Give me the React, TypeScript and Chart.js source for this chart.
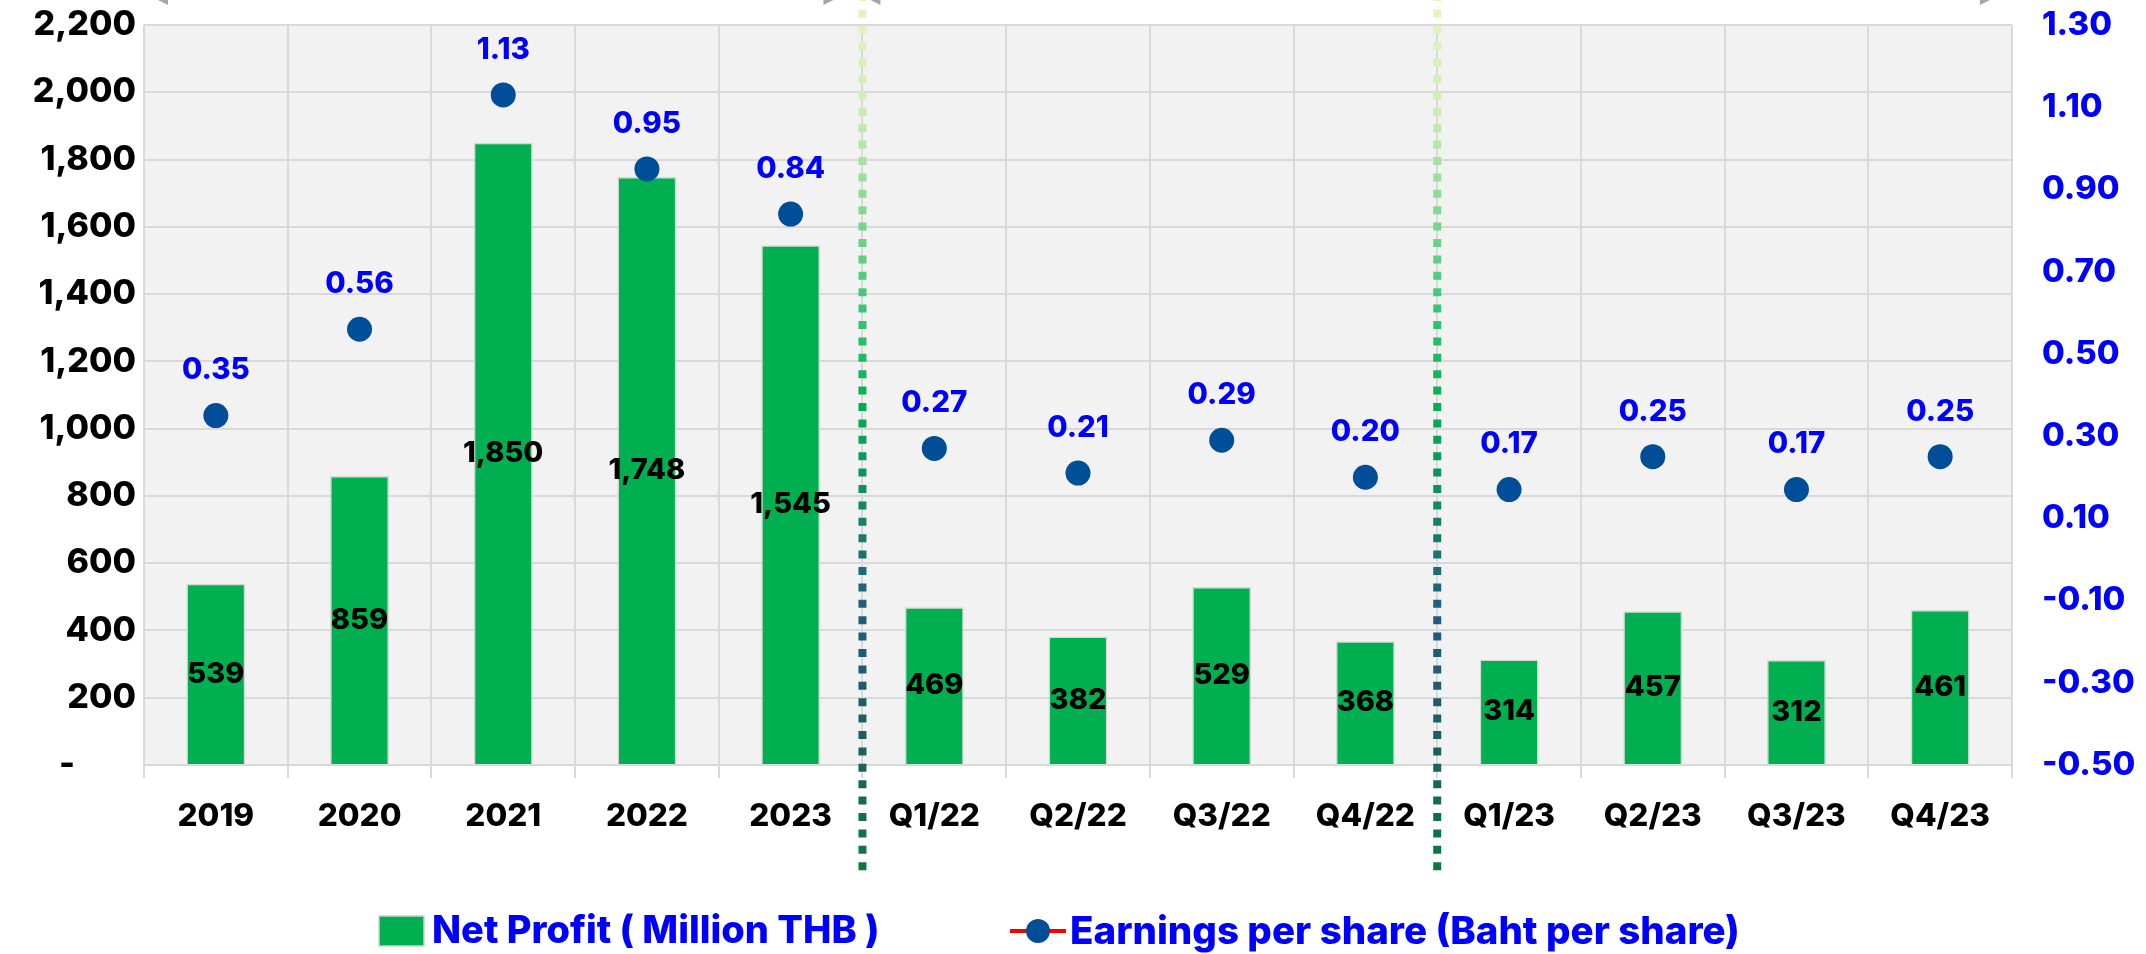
import React, { useEffect, useRef } from 'react';
import { Chart, registerables } from 'chart.js';

Chart.register(...registerables);

// ---- data ----
const categories = ['2019', '2020', '2021', '2022', '2023', 'Q1/22', 'Q2/22', 'Q3/22', 'Q4/22', 'Q1/23', 'Q2/23', 'Q3/23', 'Q4/23'];
const netProfit = [539, 859, 1850, 1748, 1545, 469, 382, 529, 368, 314, 457, 312, 461];
const eps = [0.35, 0.56, 1.13, 0.95, 0.84, 0.27, 0.21, 0.29, 0.2, 0.17, 0.25, 0.17, 0.25];
const leftAxis = [0, 2200, 200]; // min, max, step
const rightAxis = [-0.5, 1.3, 0.2]; // min, max, step
const separatorsAfter = [4, 8];
const legendLabels = ['Net Profit ( Million THB )', 'Earnings per share (Baht per share)'];

// ---- styles ----
const FONT = 'Inter, "Open Sans", sans-serif';
const GREEN = '#00B050';
const DOT = '#004E98';
const BLUE = '#0000FF';
const GRID = '#D9D9D9';
const W = 800;

const bgPlugin = {
  id: 'bgPlugin',
  beforeDraw(chart: any) {
    const { ctx, chartArea: a } = chart;
    ctx.save();
    ctx.fillStyle = '#FFFFFF';
    ctx.fillRect(0, 0, chart.width, chart.height);
    ctx.fillStyle = '#F2F2F2';
    ctx.fillRect(a.left, a.top, a.right - a.left, a.bottom - a.top);
    ctx.restore();
  },
};

const labelPlugin = {
  id: 'labelPlugin',
  afterDatasetsDraw(chart: any) {
    const { ctx } = chart;
    ctx.save();
    ctx.textAlign = 'center';
    ctx.textBaseline = 'middle';
    const barMeta = chart.getDatasetMeta(0);
    ctx.font = `${W} 29px ${FONT}`;
    ctx.fillStyle = '#000000';
    barMeta.data.forEach((el: any, i: number) => {
      const v = netProfit[i];
      ctx.fillText(v.toLocaleString('en-US'), el.x, (el.y + el.base) / 2);
    });
    const ptMeta = chart.getDatasetMeta(1);
    ctx.font = `${W} 29.5px ${FONT}`;
    ctx.fillStyle = BLUE;
    ptMeta.data.forEach((el: any, i: number) => {
      ctx.fillText(eps[i].toFixed(2), el.x, el.y - 45);
    });
    ctx.restore();
  },
};

const overlayPlugin = {
  id: 'overlayPlugin',
  afterDraw(chart: any) {
    const { ctx, chartArea: a } = chart;
    const xs = chart.scales.x;
    ctx.save();
    // dotted separators
    separatorsAfter.forEach((idx) => {
      const x = (xs.getPixelForValue(idx) + xs.getPixelForValue(idx + 1)) / 2;
      const g = ctx.createLinearGradient(0, 0, 0, 877);
      g.addColorStop(0, '#E4F5BE');
      g.addColorStop(0.12, '#CDEFAE');
      g.addColorStop(0.34, '#40C878');
      g.addColorStop(0.46, '#00B050');
      g.addColorStop(0.58, '#13866A');
      g.addColorStop(0.7, '#1F5C7C');
      g.addColorStop(0.84, '#1A5F63');
      g.addColorStop(1, '#0B7A3E');
      ctx.strokeStyle = g;
      ctx.lineWidth = 8;
      ctx.setLineDash([8, 8.4]);
      ctx.beginPath();
      ctx.moveTo(x, -7);
      ctx.lineTo(x, 877);
      ctx.stroke();
    });
    ctx.setLineDash([]);
    // bracket remnants at the top edge
    ctx.fillStyle = '#A6A6A6';
    const l1 = (xs.getPixelForValue(4) + xs.getPixelForValue(5)) / 2;
    const wedges: [number, number][] = [
      [a.left + 20, 1],
      [l1 - 35, -1],
      [l1 + 14, 1],
      [a.right - 28, -1],
    ];
    wedges.forEach(([x, d]) => {
      ctx.beginPath();
      ctx.moveTo(x - d * 6, 0);
      ctx.lineTo(x + d * 4, 0);
      ctx.lineTo(x + d * 4, 5);
      ctx.closePath();
      ctx.fill();
    });
    // legend
    const ly = 931;
    ctx.font = `${W} 38px ${FONT}`;
    ctx.textBaseline = 'middle';
    ctx.textAlign = 'left';
    ctx.fillStyle = GREEN;
    ctx.fillRect(379, ly - 15, 45, 30);
    ctx.strokeStyle = '#D0D0D0';
    ctx.lineWidth = 1.5;
    ctx.strokeRect(379, ly - 15, 45, 30);
    ctx.fillStyle = BLUE;
    ctx.fillText(legendLabels[0], 432, ly + 1);
    ctx.strokeStyle = '#FF0000';
    ctx.lineWidth = 4;
    ctx.beginPath();
    ctx.moveTo(1010, ly);
    ctx.lineTo(1066, ly);
    ctx.stroke();
    ctx.fillStyle = DOT;
    ctx.beginPath();
    ctx.arc(1038, ly, 12, 0, Math.PI * 2);
    ctx.fill();
    ctx.fillStyle = BLUE;
    ctx.font = `${W} 38.5px ${FONT}`;
    ctx.fillText(legendLabels[1], 1070, ly + 1);
    ctx.restore();
  },
};

const zeroPad = (s: any) => {
  s.paddingTop = 0;
  s.paddingBottom = 0;
};

export default function App() {
  const ref = useRef<HTMLCanvasElement | null>(null);

  useEffect(() => {
    let chart: any = null;
    let cancelled = false;
    const make = () => {
      if (cancelled || !ref.current) return;
      chart = new Chart(ref.current, {
        type: 'bar',
        data: {
          labels: categories,
          datasets: [
            {
              type: 'bar',
              label: legendLabels[0],
              data: netProfit,
              backgroundColor: GREEN,
              borderColor: '#D6D6D6',
              borderWidth: 1.5,
              barPercentage: 0.41,
              categoryPercentage: 1,
              yAxisID: 'y',
              order: 1,
            },
            {
              type: 'line',
              label: legendLabels[1],
              data: eps,
              showLine: false,
              borderColor: '#FF0000',
              pointRadius: 12.5,
              pointHoverRadius: 12.5,
              pointBackgroundColor: DOT,
              pointBorderColor: DOT,
              pointBorderWidth: 0,
              yAxisID: 'y1',
              order: 0,
            },
          ],
        },
        options: {
          responsive: true,
          maintainAspectRatio: false,
          animation: false,
          layout: { padding: { top: 25, left: 0, right: 0, bottom: 0 } },
          plugins: {
            legend: { display: false },
            tooltip: { enabled: false },
          },
          scales: {
            x: {
              type: 'category',
              offset: true,
              grid: { offset: true, color: GRID, lineWidth: 2, tickLength: 13, drawTicks: true },
              border: { display: true, color: GRID, width: 2 },
              ticks: {
                color: '#000000',
                font: { family: FONT, size: 31.5, weight: W },
                padding: 20,
                maxRotation: 0,
                autoSkip: false,
              },
              afterFit: (s: any) => {
                s.height = 189;
              },
            },
            y: {
              position: 'left',
              min: leftAxis[0],
              max: leftAxis[1],
              grid: { color: GRID, lineWidth: 2, drawTicks: false },
              border: { display: false },
              ticks: {
                stepSize: leftAxis[2],
                color: '#000000',
                font: { family: FONT, size: 34, weight: W },
                padding: 8,
                callback: (v: any) =>
                  Number(v) === 0 ? '-\u2007\u2007\u2002' : Number(v).toLocaleString('en-US'),
              },
              afterFit: (s: any) => {
                s.width = 144;
                zeroPad(s);
              },
            },
            y1: {
              position: 'right',
              min: rightAxis[0],
              max: rightAxis[1],
              grid: { drawOnChartArea: false, drawTicks: false },
              border: { display: false },
              ticks: {
                stepSize: rightAxis[2],
                color: BLUE,
                font: { family: FONT, size: 33, weight: W },
                padding: 30,
                callback: (v: any) => Number(v).toFixed(2),
              },
              afterFit: (s: any) => {
                s.width = 134;
                zeroPad(s);
              },
            },
          },
        },
        plugins: [bgPlugin, labelPlugin, overlayPlugin],
      } as any);
    };
    const fonts: any = (document as any).fonts;
    if (fonts && fonts.load) {
      Promise.all([fonts.load(`${W} 30px Inter`), fonts.load(`${W} 38px Inter`)])
        .catch(() => null)
        .then(make);
    } else {
      make();
    }
    return () => {
      cancelled = true;
      if (chart) chart.destroy();
    };
  }, []);

  return (
    <div style={{ position: 'absolute', left: 0, top: 0, width: 2146, height: 954, background: '#fff' }}>
      <canvas ref={ref} />
    </div>
  );
}
